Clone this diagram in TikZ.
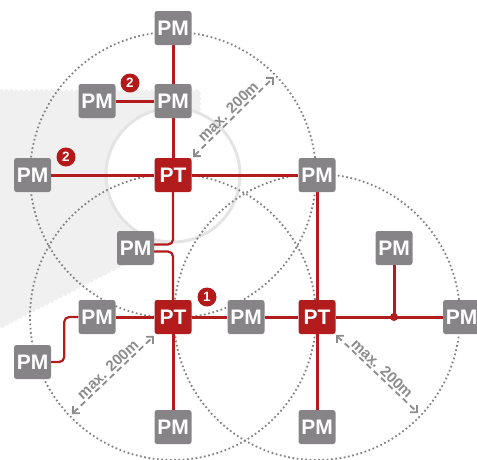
\documentclass[tikz,border=0pt]{standalone}
\usepackage{fontspec}
\setmainfont{Liberation Sans}
\usetikzlibrary{arrows.meta,decorations.pathmorphing,calc}
\definecolor{boxgray}{RGB}{134,132,135}
\definecolor{tred}{RGB}{178,28,28}
\definecolor{bred}{RGB}{180,24,24}
\definecolor{dotgray}{RGB}{130,130,130}
\definecolor{dimgray}{RGB}{140,140,140}
\definecolor{bggray}{RGB}{240,240,240}
\definecolor{ringgray}{RGB}{228,228,228}
\pgfdeclarelayer{bglayer}
\pgfdeclarelayer{linelayer}
\pgfsetlayers{bglayer,linelayer,main}
\begin{document}
\begin{tikzpicture}[x=1pt,y=-1pt,
  pm/.style={fill=boxgray,text=white,minimum width=37pt,minimum height=34pt,inner sep=0pt,
    rounded corners=2.5pt,font=\bfseries\fontsize{21}{21}\selectfont},
  pt/.style={pm,fill=tred},
  badge/.style={circle,fill=bred,text=white,inner sep=0pt,minimum size=19pt,
    font=\bfseries\fontsize{13.5}{13.5}\selectfont},
  redline/.style={draw=tred,line width=3pt},
  thinred/.style={draw=tred,line width=2.2pt,rounded corners=5pt},
  dotc/.style={draw=dotgray,line width=1.8pt,dash pattern=on 1.7pt off 2.6pt},
  dimline/.style={draw=dimgray,line width=1.8pt,dash pattern=on 6pt off 4pt,
    {Straight Barb[angle=90:7pt]}-{Straight Barb[angle=90:7pt]}},
  dimlabel/.style={text=dimgray,font=\bfseries\fontsize{15}{15}\selectfont,inner sep=1.5pt,sloped,above}
]
\useasboundingbox (0,0) rectangle (477,459);

% nodes
\node[pm] (pmT)   at (173,28)  {PM};
\node[pm] (pmU)   at (173,101) {PM};
\node[pm] (pmUL)  at (97,101)  {PM};
\node[pt] (ptT)   at (173,175) {PT};
\node[pm] (pmL)   at (32.5,175) {PM};
\node[pm] (pmR)   at (317,175) {PM};
\node[pm] (pmM)   at (135.5,248) {PM};
\node[pt] (ptBL)  at (173,317) {PT};
\node[pm] (pmBL1) at (97,317)  {PM};
\node[pm] (pmBL2) at (32.5,362) {PM};
\node[pm] (pmB1)  at (173,427) {PM};
\node[pm] (pmMid) at (246,317) {PM};
\node[pt] (ptR)   at (317,317) {PT};
\node[pm] (pmRU)  at (394,248) {PM};
\node[pm] (pmRR)  at (461.5,317) {PM};
\node[pm] (pmRB)  at (317,427) {PM};
\coordinate (junc) at (394,317);

\begin{pgfonlayer}{bglayer}
% background torn area
\fill[bggray,decorate,decoration={snake,amplitude=1.1pt,segment length=5pt}]
  (-5,90) -- (200,90) -- (200,150) -- (180,238) -- (-5,333) -- cycle;
% white disk with light ring
\filldraw[fill=white,draw=ringgray,line width=3pt] (173,175) circle[radius=67pt];
\end{pgfonlayer}

\begin{pgfonlayer}{linelayer}
% dotted range circles
\draw[dotc] (ptT.center) circle[radius=143pt];
\draw[dotc] (ptBL.center) circle[radius=143pt];
\draw[dotc] (ptR.center) circle[radius=143pt];
% red connections
\draw[redline] (pmT) -- (pmU);
\draw[redline] (pmU) -- (ptT);
\draw[redline] (pmUL) -- (pmU);
\draw[redline] (pmL) -- (ptT);
\draw[redline] (ptT) -- (pmR);
\draw[redline] (pmR) -- (ptR);
\draw[redline] (pmBL1) -- (ptBL);
\draw[redline] (ptBL) -- (pmB1);
\draw[redline] (ptBL) -- (pmMid);
\draw[redline] (pmMid) -- (ptR);
\draw[redline] (ptR) -- (junc) -- (pmRR);
\draw[redline] (junc) -- (pmRU);
\draw[redline] (ptR) -- (pmRB);
\fill[tred] (junc) circle[radius=4pt];
\draw[thinred] (ptT.south) |- ([yshift=3.5pt]pmM.east);
\draw[thinred] ([yshift=-3.5pt]pmM.east) -| (ptBL.north);
\draw[thinred] (pmBL2.east) -- ++(13,0) |- (pmBL1.west);
\end{pgfonlayer}

% badges
\node[badge] (b1) at (130,83) {2};
\node[badge] (b2) at (66,157) {2};
\node[badge] (b3) at (207,297) {1};

% dimension lines
\coordinate (d1a) at (193,157);
\coordinate (d1b) at (274,77);
\coordinate (d2a) at (72,414);
\coordinate (d2b) at (154,336);
\coordinate (d3a) at (336,335);
\coordinate (d3b) at (418,413);
\draw[dimline] (d1a) -- node[dimlabel] {max. 200m} (d1b);
\draw[dimline] (d2a) -- node[dimlabel] {max. 200m} (d2b);
\draw[dimline] (d3a) -- node[dimlabel] {max. 200m} (d3b);
\end{tikzpicture}
\end{document}
